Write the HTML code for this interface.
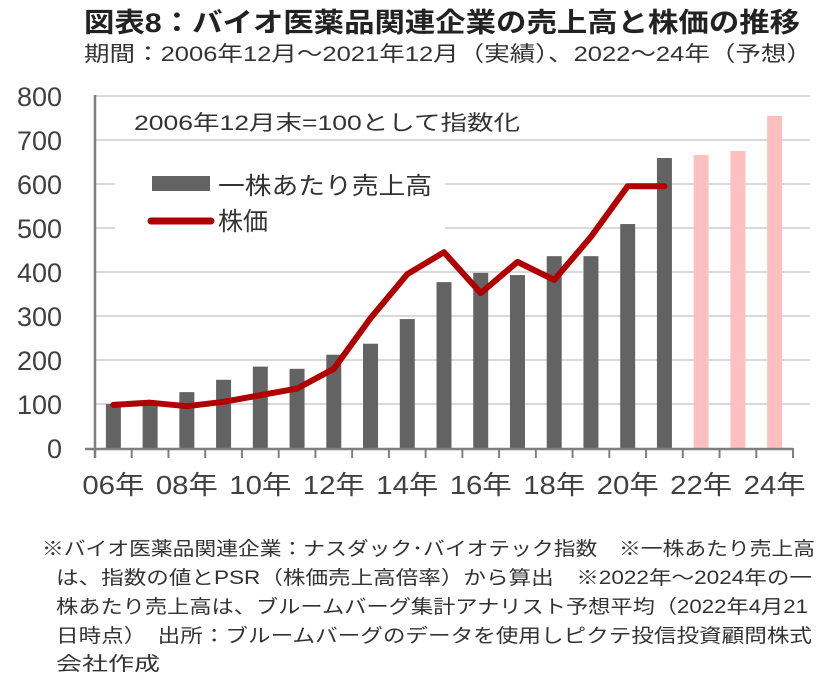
<!DOCTYPE html>
<html><head><meta charset="utf-8">
<style>
body{margin:0;width:823px;height:681px;background:#fff;overflow:hidden;font-family:"Liberation Sans","Noto Sans CJK JP",sans-serif;color:#333}
svg{position:absolute;left:0;top:0}
</style></head><body>
<svg id="chart" width="823" height="681" font-family="Liberation Sans, Noto Sans CJK JP, sans-serif">
<text x="84" y="32" font-size="27" font-weight="bold" fill="#222" textLength="716" lengthAdjust="spacingAndGlyphs">図表8：バイオ医薬品関連企業の売上高と株価の推移</text>
<text x="84" y="61" font-size="21" fill="#333" textLength="728" lengthAdjust="spacingAndGlyphs">期間：2006年12月～2021年12月（実績）、2022～24年（予想）</text>
<g font-size="19" fill="#333">
<text x="42" y="555" textLength="773" lengthAdjust="spacingAndGlyphs">※バイオ医薬品関連企業：ナスダック･バイオテック指数　※一株あたり売上高</text>
<text x="56" y="584" textLength="756" lengthAdjust="spacingAndGlyphs">は、指数の値とPSR（株価売上高倍率）から算出　※2022年～2024年の一</text>
<text x="56" y="613" textLength="752" lengthAdjust="spacingAndGlyphs">株あたり売上高は、ブルームバーグ集計アナリスト予想平均（2022年4月21</text>
<text x="56" y="642" textLength="756" lengthAdjust="spacingAndGlyphs">日時点）　出所：ブルームバーグのデータを使用しピクテ投信投資顧問株式</text>
<text x="56" y="670" textLength="104" lengthAdjust="spacingAndGlyphs">会社作成</text>
</g>
</svg>
<script>
const years=["06","07","08","09","10","11","12","13","14","15","16","17","18","19","20","21","22","23","24"];
const sales=[100,105,127,155,185,180,212,237,293,377,398,393,436,436,509,659,666,675,755];
const forecast=[false,false,false,false,false,false,false,false,false,false,false,false,false,false,false,false,true,true,true];
const price=[98,103,95,105,120,135,180,295,395,445,352,423,382,480,595,595];
const yTicks=[0,100,200,300,400,500,600,700,800];
const xLabels=["06年","08年","10年","12年","14年","16年","18年","20年","22年","24年"];
const NS="http://www.w3.org/2000/svg";
const svg=document.getElementById('chart');
const X0=95,X1=793,Y0=448,Y1=96;
const cw=(X1-X0)/years.length;
const y=v=>Y0-(v/800)*(Y0-Y1);
const xc=i=>X0+(i+0.5)*cw;
function mk(t,a){const e=document.createElementNS(NS,t);for(const k in a)e.setAttribute(k,a[k]);svg.appendChild(e);return e;}
yTicks.forEach(v=>{
 if(v>0){const g=mk('line',{x1:X0,x2:810,y1:y(v),y2:y(v),stroke:'#d9d9d9','stroke-width':2});
 
 }
 const t=mk('text',{x:62,y:y(v)+10,'font-size':27,'text-anchor':'end',fill:'#404040'});
 t.textContent=v;
 
 
});
const lb=mk('rect',{x:115,y:160,width:330,height:80,fill:'#fff'});


sales.forEach((v,i)=>{
 const r=mk('rect',{x:xc(i)-7.5,y:y(v),width:15,height:Y0-y(v),fill:forecast[i]?'#ffbfc1':'#636363'});
 
 
});
const pl=mk('polyline',{points:price.map((v,i)=>xc(i)+','+y(v)).join(' '),fill:'none',stroke:'#b00000','stroke-width':6,'stroke-linejoin':'round','stroke-linecap':'round'});


const ax=mk('line',{x1:X0,x2:X0,y1:Y1-1,y2:Y0+10,stroke:'#7f7f7f','stroke-width':2.5});


const bx=mk('line',{x1:X0-10,x2:X1,y1:Y0+1,y2:Y0+1,stroke:'#7f7f7f','stroke-width':2.5});


for(let i=0;i<=years.length;i++){
 const tk=mk('line',{x1:X0+i*cw,x2:X0+i*cw,y1:Y0,y2:Y0+10,stroke:'#7f7f7f','stroke-width':2});
 
 
}
xLabels.forEach((l,k)=>{
 const t=mk('text',{x:xc(k*2),y:494,'font-size':26,'text-anchor':'middle',fill:'#404040',textLength:62,lengthAdjust:'spacingAndGlyphs'});
 t.textContent=l;
 
 
});
const an=mk('text',{x:134,y:130,'font-size':21,fill:'#333',textLength:386,lengthAdjust:'spacingAndGlyphs'});
an.textContent='2006年12月末=100として指数化';


const l1=mk('rect',{x:152,y:176,width:58,height:15,fill:'#636363'});


const t1=mk('text',{x:218,y:194,'font-size':24,fill:'#333',textLength:214,lengthAdjust:'spacingAndGlyphs'});
t1.textContent='一株あたり売上高';


const l2=mk('line',{x1:151,x2:211,y1:221,y2:221,stroke:'#b00000','stroke-width':7,'stroke-linecap':'round'});


const t2=mk('text',{x:218,y:230,'font-size':25,fill:'#333'});
t2.textContent='株価';


</script>
</body></html>
